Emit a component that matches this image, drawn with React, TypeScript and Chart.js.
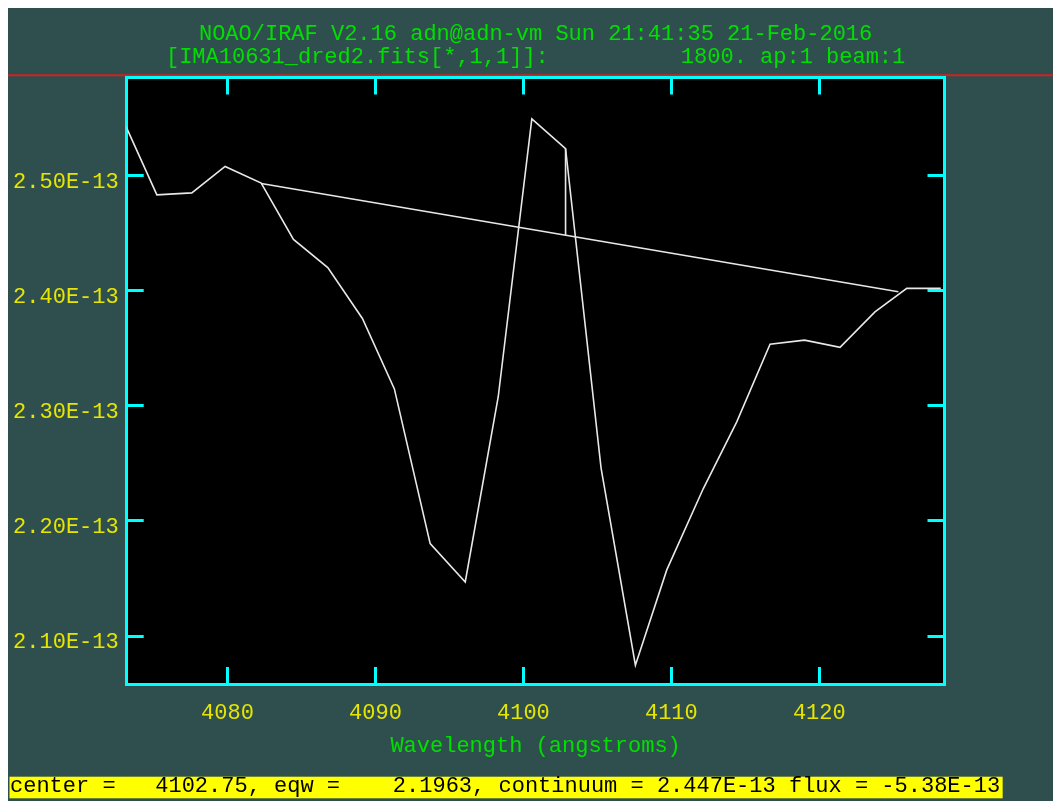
import React, { useEffect, useRef } from 'react';
import { Chart, registerables } from 'chart.js';

Chart.register(...registerables);

// ---- data (flux in units of 1E-13) ----
const WAVELENGTH = [
  4072.93, 4075.23, 4077.59, 4079.84, 4082.28, 4084.46, 4086.78, 4089.12,
  4091.28, 4093.7, 4096.07, 4098.3, 4100.57, 4102.85, 4105.25, 4107.57,
  4109.69, 4112.16, 4114.42, 4116.67, 4119.0, 4121.4, 4123.76, 4125.91, 4128.21,
];
const FLUX = [
  2.549, 2.4835, 2.4852, 2.5082, 2.4937, 2.4447, 2.4203, 2.376,
  2.3148, 2.1803, 2.147, 2.308, 2.5495, 2.5236, 2.246, 2.0747,
  2.1575, 2.2282, 2.2861, 2.3536, 2.3572, 2.3509, 2.3818, 2.4022, 2.4022,
];
const CONT_WAVE = [4082.28, 4125.34];
const CONT_FLUX = [2.4934, 2.3992];
const MARK_WAVE = [4102.85, 4102.85];
const MARK_FLUX = [2.4484, 2.5236];

const X_MIN = 4073.19;
const X_MAX = 4128.46;
const Y_MIN = 2.0583;
const Y_MAX = 2.5855;
const X_STEP = 10;
const Y_STEP = 0.1;

const HEADER_1 = 'NOAO/IRAF V2.16 adn@adn-vm Sun 21:41:35 21-Feb-2016';
const HEADER_2 = '[IMA10631_dred2.fits[*,1,1]]:          1800. ap:1 beam:1';
const X_TITLE = 'Wavelength (angstroms)';
const STATUS = 'center =   4102.75, eqw =    2.1963, continuum = 2.447E-13 flux = -5.38E-13';

// ---- styles ----
const BG = '#2f4f4f';
const PLOT_BG = '#000000';
const FRAME = '#00ffff';
const LINE = '#e8e8e8';
const GREEN = '#00e000';
const YELLOW = '#e6e600';
const RED = '#d42020';
const STATUS_BG = '#ffff00';
const FONT = "'Liberation Mono', 'DejaVu Sans Mono', monospace";
const FONT_SIZE = 22;

const toPoints = (xs: number[], ys: number[]) => xs.map((x, i) => ({ x, y: ys[i] }));

const backdrop = {
  id: 'backdrop',
  beforeDraw(chart: any) {
    const { ctx, width, height, chartArea } = chart;
    ctx.save();
    ctx.fillStyle = BG;
    ctx.fillRect(0, 0, width, height);
    ctx.fillStyle = PLOT_BG;
    ctx.fillRect(chartArea.left, chartArea.top, chartArea.right - chartArea.left, chartArea.bottom - chartArea.top);
    ctx.strokeStyle = RED;
    ctx.lineWidth = 2;
    ctx.beginPath();
    ctx.moveTo(0, chartArea.top - 2.3);
    ctx.lineTo(width, chartArea.top - 2.3);
    ctx.stroke();
    ctx.restore();
  },
  afterDraw(chart: any) {
    const { ctx, height } = chart;
    ctx.save();
    ctx.font = `${FONT_SIZE}px ${FONT}`;
    const w = ctx.measureText(STATUS).width;
    ctx.fillStyle = STATUS_BG;
    ctx.fillRect(1.5, height - 24.3, w + 3, 21.6);
    ctx.fillStyle = '#000000';
    ctx.textBaseline = 'alphabetic';
    ctx.textAlign = 'left';
    ctx.fillText(STATUS, 2, height - 9.3);
    ctx.restore();
  },
};

const gridOpts = {
  display: true,
  drawOnChartArea: false,
  drawTicks: true,
  tickLength: -17,
  color: FRAME,
  lineWidth: 3,
  tickColor: FRAME,
  tickWidth: 3,
};
const borderOpts = { display: true, color: FRAME, width: 3 };
const labelFont = { family: FONT, size: FONT_SIZE };

export default function App() {
  const ref = useRef<HTMLCanvasElement>(null);

  useEffect(() => {
    if (!ref.current) return;
    const chart = new Chart(ref.current, {
      type: 'line',
      data: {
        datasets: [
          {
            label: 'spectrum',
            data: toPoints(WAVELENGTH, FLUX),
            borderColor: LINE,
            borderWidth: 1.6,
            pointRadius: 0,
            tension: 0,
            fill: false,
          },
          {
            label: 'continuum',
            data: toPoints(CONT_WAVE, CONT_FLUX),
            borderColor: LINE,
            borderWidth: 1.6,
            pointRadius: 0,
            tension: 0,
            fill: false,
          },
          {
            label: 'center',
            data: toPoints(MARK_WAVE, MARK_FLUX),
            borderColor: LINE,
            borderWidth: 1.6,
            pointRadius: 0,
            tension: 0,
            fill: false,
          },
        ],
      },
      options: {
        animation: false,
        responsive: false,
        devicePixelRatio: 1,
        events: [],
        layout: { padding: { top: 0, left: 0, right: 108.5, bottom: 0 } },
        plugins: {
          legend: { display: false },
          tooltip: { enabled: false },
          title: {
            display: true,
            text: HEADER_1,
            color: GREEN,
            fullSize: false,
            font: { family: FONT, size: FONT_SIZE, weight: 'normal', lineHeight: 1 },
            padding: { top: 15.45, bottom: 0 },
          },
          subtitle: {
            display: true,
            text: HEADER_2,
            color: GREEN,
            fullSize: false,
            font: { family: FONT, size: FONT_SIZE, weight: 'normal', lineHeight: 1 },
            padding: { top: 0.4, bottom: 9.65 },
          },
        },
        scales: {
          x: {
            type: 'linear',
            position: 'bottom',
            min: X_MIN,
            max: X_MAX,
            z: 1,
            afterFit: (s: any) => { s.height = 117; },
            ticks: {
              stepSize: X_STEP,
              includeBounds: false,
              color: YELLOW,
              font: labelFont,
              padding: 33,
              maxRotation: 0,
              minRotation: 0,
              autoSkip: false,
              callback: (v: any) => String(v),
            },
            grid: gridOpts,
            border: borderOpts,
            title: {
              display: true,
              text: X_TITLE,
              color: GREEN,
              font: labelFont,
              padding: { top: 0, bottom: 41.4 },
            },
          },
          x2: {
            type: 'linear',
            position: 'top',
            display: true,
            min: X_MIN,
            max: X_MAX,
            z: 1,
            afterFit: (s: any) => { s.height = 0; },
            ticks: { display: false, stepSize: X_STEP, includeBounds: false },
            grid: gridOpts,
            border: borderOpts,
          },
          y: {
            type: 'linear',
            position: 'left',
            min: Y_MIN,
            max: Y_MAX,
            z: 1,
            afterFit: (s: any) => { s.width = 118.7; },
            ticks: {
              stepSize: Y_STEP,
              includeBounds: false,
              color: YELLOW,
              font: labelFont,
              padding: 25,
              labelOffset: 6,
              callback: (v: any) => Number(v).toFixed(2) + 'E-13',
            },
            grid: gridOpts,
            border: borderOpts,
          },
          y2: {
            type: 'linear',
            position: 'right',
            display: true,
            min: Y_MIN,
            max: Y_MAX,
            z: 1,
            afterFit: (s: any) => { s.width = 0; },
            ticks: { display: false, stepSize: Y_STEP, includeBounds: false },
            grid: gridOpts,
            border: borderOpts,
          },
        },
      },
      plugins: [backdrop],
    } as any);
    return () => chart.destroy();
  }, []);

  return (
    <div style={{ position: 'fixed', left: 8, top: 8, width: 1045, height: 793 }}>
      <canvas ref={ref} width={1045} height={793} style={{ display: 'block', width: 1045, height: 793 }} />
    </div>
  );
}
